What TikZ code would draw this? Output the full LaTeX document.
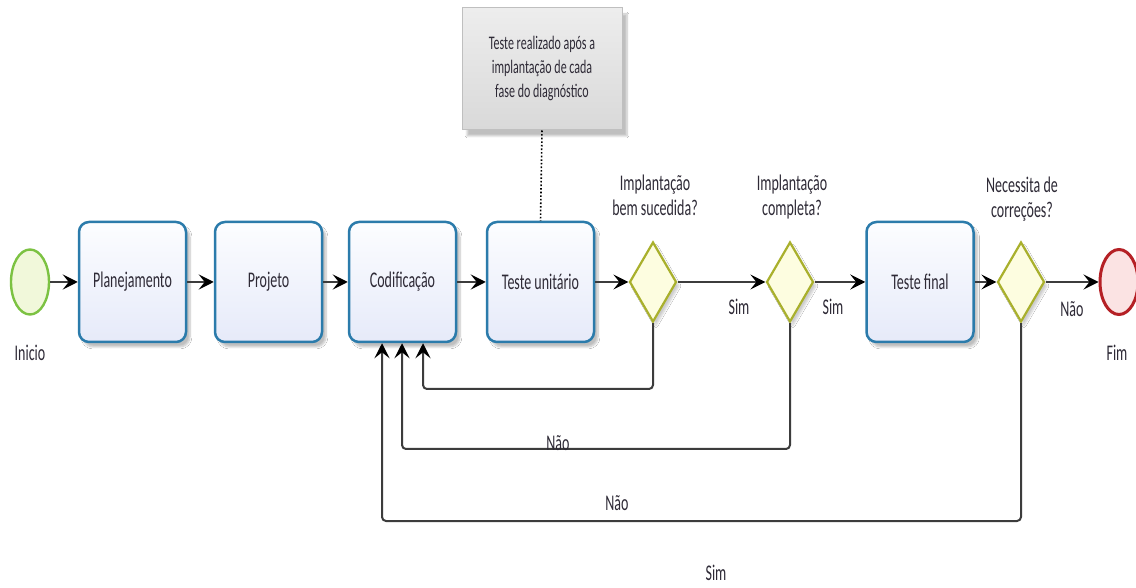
\documentclass[tikz,border=0pt]{standalone}
\usepackage{fontspec}
\setmainfont{Carlito}
\usepackage{graphicx}
\usetikzlibrary{shapes.geometric,arrows.meta,shadows,shadows.blur}
\definecolor{txtc}{HTML}{2E2A36}
\definecolor{boxb}{HTML}{2B7BAB}
\definecolor{boxt}{HTML}{FCFDFF}
\definecolor{boxbot}{HTML}{E6EAF9}
\definecolor{dmb}{HTML}{A9B02C}
\definecolor{dmf}{HTML}{FDFDE0}
\definecolor{stb}{HTML}{7CC242}
\definecolor{stf}{HTML}{F1F8DA}
\definecolor{enb}{HTML}{B52025}
\definecolor{enf}{HTML}{FBE3E3}
\definecolor{lnc}{HTML}{3C3C3C}
\newcommand\vs[1]{\scalebox{1}[1.6]{#1}}
\newcommand\vst[1]{\scalebox{1}[1.6]{\begin{tabular}{@{}c@{}}#1\end{tabular}}}
\tikzset{
  task/.style={draw=boxb, line width=2.5pt, rounded corners=10pt, top color=boxt, bottom color=boxbot,
    minimum width=107pt, minimum height=120pt, inner sep=0pt, font=\fontsize{14}{16}\selectfont, text=txtc,
    blur shadow={shadow xshift=4pt, shadow yshift=-5pt, shadow opacity=25, shadow blur steps=6}},
  gate/.style={diamond, draw=dmb, line width=2.2pt, fill=dmf, minimum width=47pt, minimum height=80pt, inner sep=0pt,
    blur shadow={shadow xshift=3pt, shadow yshift=-4pt, shadow opacity=20, shadow blur steps=6}},
  evstart/.style={ellipse, draw=stb, line width=2.4pt, fill=stf, minimum width=38pt, minimum height=65pt, inner sep=0pt},
  evend/.style={ellipse, draw=enb, line width=3pt, fill=enf, minimum width=38pt, minimum height=65pt, inner sep=0pt},
  note/.style={draw=black!25, line width=1pt, top color=black!7, bottom color=black!15, minimum width=160pt, minimum height=122pt,
    inner sep=0pt, font=\fontsize{12}{15}\selectfont, text=txtc,
    blur shadow={shadow xshift=5pt, shadow yshift=-6pt, shadow opacity=25, shadow blur steps=6}},
  lbl/.style={font=\fontsize{14}{16}\selectfont, text=txtc, inner sep=0pt},
  flow/.style={draw=lnc, line width=2pt, -{Stealth[length=15pt,width=15pt,inset=6pt,color=black]}},
  back/.style={flow, rounded corners=4pt},
}
\begin{document}
\begin{tikzpicture}[x=1pt,y=1pt]
\useasboundingbox (0,0) rectangle (1136,587);
\clip (0,0) rectangle (1136,587);
\fill[white] (0,0) rectangle (1136,587);
% nodes
\node[evstart] (s) at (30,305) {};
\node[lbl] (sl) at (30,234) {\vs{Inicio}};
\node[task] (plan) at (132.5,305) {\vs{Planejamento}};
\node[task] (proj) at (268.5,305) {\vs{Projeto}};
\node[task] (cod) at (402.5,305) {\vs{Codificação}};
\node[task] (tu) at (540.5,305) {\vs{Teste unitário}};
\node[gate] (d1) at (653,305) {};
\node[gate] (d2) at (790,305) {};
\node[task] (tf) at (920,305) {\vs{Teste final}};
\node[gate] (d3) at (1021,305) {};
\node[evend] (e) at (1119,305) {};
\node[lbl] (el) at (1117,234) {\vs{Fim}};
\node[note] (n) at (542,518) {\vst{Teste realizado após a\\implantação de cada\\fase do diagnóstico}};
% questions
\node[lbl] (q1) at (655,389) {\vst{Implantação\\bem sucedida?}};
\node[lbl] (q2) at (792,389) {\vst{Implantação\\completa?}};
\node[lbl] (q3) at (1022,387) {\vst{Necessita de\\correções?}};
% main flow
\draw[flow] (s) -- (plan);
\draw[flow] (plan) -- (proj);
\draw[flow] (proj) -- (cod);
\draw[flow] (cod) -- (tu);
\draw[flow] (tu) -- (d1);
\draw[flow] (d1) -- (d2);
\draw[flow] (d2) -- (tf);
\draw[flow] (tf) -- (d3);
\draw[flow] (d3) -- (e);
\draw[line width=1.6pt, dotted] (n.south) -- (tu.north);
% loops
\coordinate (l1) at (423,198);
\coordinate (l2) at (402,138);
\coordinate (l3) at (382,66);
\draw[back] (d1.south) |- (l1) -- (l1 |- cod.south);
\draw[back] (d2.south) |- (l2) -- (l2 |- cod.south);
\draw[back] (d3.south) |- (l3) -- (l3 |- cod.south);
% labels
\node[lbl] (s1) at (739,280) {\vs{Sim}};
\node[lbl] (s2) at (833,280) {\vs{Sim}};
\node[lbl] (n3) at (1072,278) {\vs{Não}};
\node[lbl] (n2) at (558,144) {\vs{Não}};
\node[lbl] (n1) at (617,84) {\vs{Não}};
\node[lbl] (s3) at (716,14) {\vs{Sim}};
\end{tikzpicture}
\end{document}
